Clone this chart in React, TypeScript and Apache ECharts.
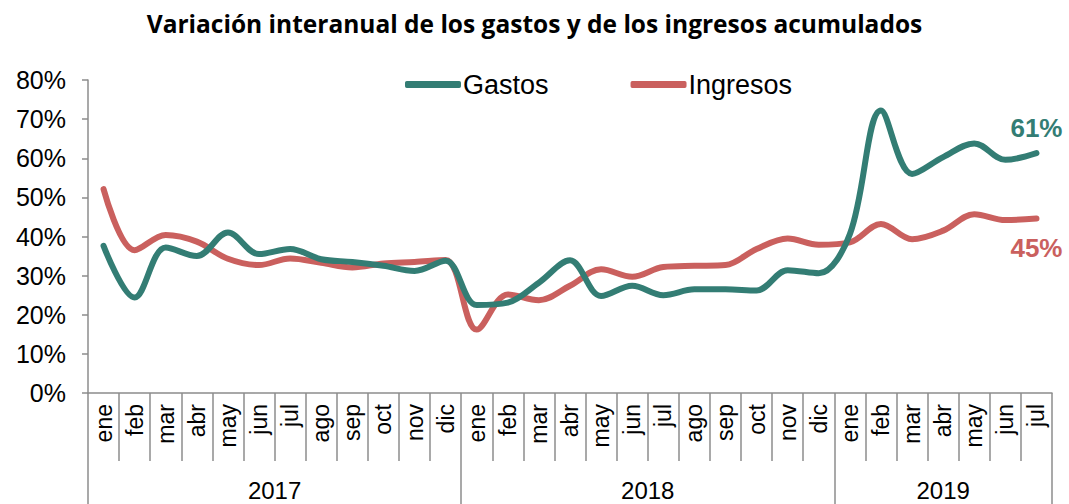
import React, { useEffect, useRef } from "react";
import * as echarts from "echarts";

const months2017 = ["ene", "feb", "mar", "abr", "may", "jun", "jul", "ago", "sep", "oct", "nov", "dic"];
const months2018 = ["ene", "feb", "mar", "abr", "may", "jun", "jul", "ago", "sep", "oct", "nov", "dic"];
const months2019 = ["ene", "feb", "mar", "abr", "may", "jun", "jul"];
const years = ["2017", "2018", "2019"];
const categories = [...months2017, ...months2018, ...months2019];

const gastos = [
  37.6, 24.4, 37.2, 35.0, 41.0, 35.5, 36.8, 34.2, 33.5, 32.5, 31.2, 33.8,
  22.5, 23.1, 28.2, 33.9, 24.8, 27.4, 25.0, 26.5, 26.5, 26.2, 31.4, 30.6,
  40.6, 72.2, 56.0, 60.3, 63.8, 59.6, 61.3,
];
const ingresos = [
  52.1, 36.5, 40.4, 38.7, 34.3, 32.7, 34.4, 33.3, 32.1, 33.1, 33.5, 34.0,
  16.2, 25.2, 23.7, 27.4, 31.6, 29.7, 32.2, 32.5, 32.7, 36.8, 39.5, 37.9,
  38.5, 43.2, 39.3, 41.5, 45.7, 44.2, 44.6,
];

const GREEN = "#337D74";
const RED = "#CA605E";
const AXIS = "#8c8c8c";
const FONT = "'Liberation Sans', Arial, sans-serif";

export default function App() {
  const ref = useRef<HTMLDivElement>(null);
  useEffect(() => {
    if (!ref.current) return;
    const chart = echarts.init(ref.current, null, { renderer: "svg" });

    // Year row: half-month positions so year labels sit at block centres
    const yearLens = [months2017.length, months2018.length, months2019.length];
    const halfCount = categories.length * 2 + 1;
    const yearAxisData: string[] = new Array(halfCount).fill("");
    const yearTickIdx: number[] = [0];
    let start = 0;
    yearLens.forEach((len, k) => {
      yearAxisData[start * 2 + len] = years[k];
      start += len;
      yearTickIdx.push(start * 2);
    });

    const last = categories.length - 1;
    const mk = (arr: number[]) =>
      arr.map((v, i) => (i === last ? { value: v, label: { show: true } } : v));

    chart.setOption({
      animation: false,
      backgroundColor: "#fff",
      title: {
        text: "Variación interanual de los gastos y de los ingresos acumulados",
        left: "center",
        top: 6,
        textStyle: { fontFamily: "'Open Sans', Lato, sans-serif", fontWeight: "bold", fontSize: 24.5, color: "#000" },
      },
      legend: {
        top: 66,
        left: 400,
        icon: "roundRect",
        itemWidth: 56,
        itemHeight: 7,
        itemGap: 82,
        textStyle: { fontFamily: FONT, fontSize: 27, color: "#000", padding: [0, 0, 0, -3] },
        data: ["Gastos", "Ingresos"],
      },
      grid: { left: 88, right: 17, top: 80, bottom: 111, containLabel: false },
      xAxis: [
        {
          type: "category",
          data: categories,
          boundaryGap: true,
          position: "bottom",
          axisLine: { show: true, lineStyle: { color: AXIS, width: 1.5 } },
          axisTick: { show: true, interval: 0, length: 68, lineStyle: { color: AXIS, width: 1.5 } },
          axisLabel: { interval: 0, rotate: 90, margin: 11, fontFamily: FONT, fontSize: 23, color: "#000" },
          splitLine: { show: false },
        },
        {
          type: "category",
          data: yearAxisData,
          boundaryGap: false,
          position: "bottom",
          offset: 68,
          axisLine: { show: false },
          axisTick: {
            show: true,
            interval: (index: number) => yearTickIdx.includes(index),
            length: 50,
            lineStyle: { color: AXIS, width: 1.5 },
          },
          axisLabel: { interval: 0, margin: 17, fontFamily: FONT, fontSize: 24, color: "#000" },
          splitLine: { show: false },
        },
      ],
      yAxis: {
        type: "value",
        min: 0,
        max: 80,
        interval: 10,
        axisLine: { show: true, lineStyle: { color: AXIS, width: 1.5 } },
        axisTick: { show: true, length: 6, lineStyle: { color: AXIS, width: 1.5 } },
        axisLabel: { formatter: "{value}%", margin: 22, fontFamily: FONT, fontSize: 25, color: "#000" },
        splitLine: { show: false },
      },
      series: [
        {
          name: "Gastos",
          type: "line",
          xAxisIndex: 0,
          data: mk(gastos),
          smooth: 0.35,
          symbol: "circle",
          symbolSize: 1,
          showSymbol: true,
          lineStyle: { color: GREEN, width: 6, cap: "round" },
          itemStyle: { color: GREEN },
          label: {
            show: false,
            position: "top",
            distance: 12,
            formatter: (p: any) => Math.round(p.value) + "%",
            fontFamily: FONT,
            fontSize: 26,
            fontWeight: "bold",
            color: GREEN,
          },
          z: 3,
        },
        {
          name: "Ingresos",
          type: "line",
          xAxisIndex: 0,
          data: mk(ingresos),
          smooth: 0.35,
          symbol: "circle",
          symbolSize: 1,
          showSymbol: true,
          lineStyle: { color: RED, width: 6, cap: "round" },
          itemStyle: { color: RED },
          label: {
            show: false,
            position: "bottom",
            distance: 16,
            formatter: (p: any) => Math.round(p.value) + "%",
            fontFamily: FONT,
            fontSize: 26,
            fontWeight: "bold",
            color: RED,
          },
          z: 2,
        },
      ],
    });
    return () => chart.dispose();
  }, []);
  return (
    <div
      ref={ref}
      style={{ position: "fixed", left: 0, top: 0, width: 1069, height: 504, background: "#fff" }}
    />
  );
}
